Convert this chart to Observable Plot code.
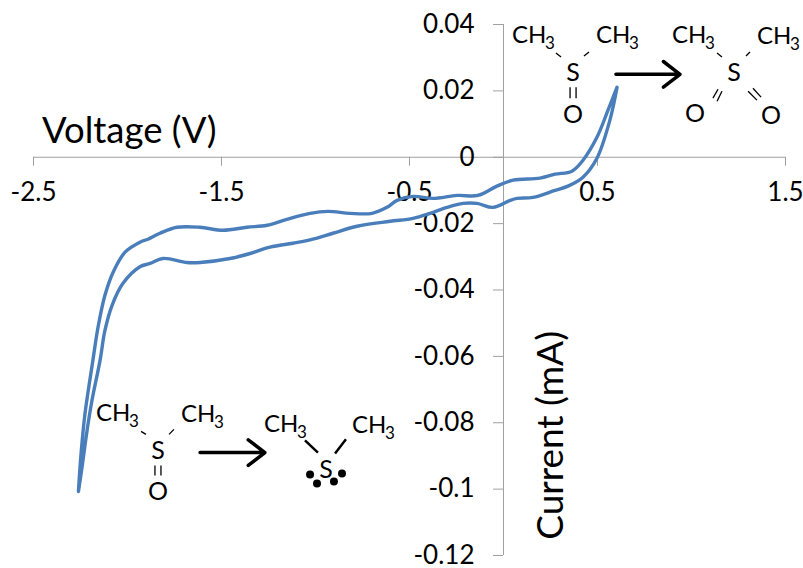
<!DOCTYPE html>
<html><head><meta charset="utf-8">
<script src="https://cdn.jsdelivr.net/npm/d3@7"></script>
<script src="https://cdn.jsdelivr.net/npm/@observablehq/plot@0.6"></script>
<style>html,body{margin:0;padding:0;background:#fff;overflow:hidden}svg{display:block}</style>
</head><body><div id="chart"></div>
<script>
const xTicks = [-2.5, -1.5, -0.5, 0.5, 1.5];
const yTicks = [0.04, 0.02, 0, -0.02, -0.04, -0.06, -0.08, -0.1, -0.12];
const sweepOutV = [-2.261,-2.247,-2.226,-2.184,-2.157,-2.120,-2.077,-2.013,-1.934,-1.891,-1.827,-1.737,-1.614,-1.492,-1.364,-1.258,-1.152,-1.029,-0.934,-0.816,-0.699,-0.620,-0.566,-0.481,-0.375,-0.247,-0.136,-0.035,0.051,0.194,0.274,0.364,0.423,0.497,0.556,0.604];
const sweepOutI = [-0.1007,-0.0893,-0.0772,-0.0612,-0.0513,-0.0416,-0.0347,-0.0286,-0.0256,-0.0247,-0.0229,-0.0211,-0.0211,-0.0220,-0.0211,-0.0205,-0.0187,-0.0169,-0.0163,-0.0169,-0.0169,-0.0151,-0.0130,-0.0118,-0.0124,-0.0115,-0.0115,-0.0087,-0.0069,-0.0063,-0.0051,-0.0042,-0.0009,0.0060,0.0142,0.0211];
const sweepBackV = [0.604,0.566,0.497,0.423,0.343,0.274,0.157,0.072,0.035,-0.056,-0.141,-0.215,-0.301,-0.391,-0.481,-0.604,-0.779,-0.907,-1.029,-1.120,-1.242,-1.348,-1.455,-1.614,-1.684,-1.811,-1.880,-1.934,-2.024,-2.082,-2.120,-2.146,-2.189,-2.215,-2.242,-2.261];
const sweepBackI = [0.0211,0.0112,-0.0003,-0.0060,-0.0087,-0.0100,-0.0121,-0.0124,-0.0130,-0.0151,-0.0139,-0.0139,-0.0151,-0.0169,-0.0184,-0.0193,-0.0208,-0.0229,-0.0249,-0.0259,-0.0271,-0.0290,-0.0305,-0.0317,-0.0317,-0.0305,-0.0320,-0.0330,-0.0380,-0.0446,-0.0522,-0.0612,-0.0733,-0.0823,-0.0935,-0.1007];
const loopV = sweepOutV.concat(sweepBackV);
const loopI = sweepOutI.concat(sweepBackI);

const methylNames = ["CH","CH","CH","CH","CH","CH","CH","CH"];
const methylV = [0.045,0.492,0.896,1.348,-2.168,-1.715,-1.274,-0.806];
const methylI = [0.0344,0.0344,0.0344,0.0341,-0.0796,-0.0799,-0.0829,-0.0832];
const subV = [0.221,0.668,1.072,1.524,-1.992,-1.540,-1.098,-0.630];
const subI = [0.0326,0.0326,0.0326,0.0323,-0.0814,-0.0817,-0.0847,-0.0850];
const atomNames = ["S","O","S","O","O","S","O","S"];
const atomV = [0.370,0.370,1.226,1.019,1.423,-1.838,-1.838,-0.944];
const atomI = [0.0229,0.0103,0.0229,0.0106,0.0100,-0.0908,-0.1034,-0.0965];
const bondV1 = [0.279,0.428,0.354,0.386,1.136,1.290,1.114,1.136,1.301,1.327,-1.928,-1.779,-1.854,-1.822];
const bondI1 = [0.0314,0.0305,0.0211,0.0211,0.0314,0.0305,0.0178,0.0169,0.0199,0.0208,-0.0826,-0.0835,-0.0929,-0.0929];
const bondV2 = [0.306,0.455,0.354,0.386,1.162,1.311,1.141,1.162,1.348,1.370,-1.902,-1.753,-1.854,-1.822];
const bondI2 = [0.0302,0.0317,0.0178,0.0178,0.0302,0.0317,0.0205,0.0199,0.0172,0.0181,-0.0835,-0.0820,-0.0959,-0.0959];
const thickV1 = [-1.056,-0.838], thickI1 = [-0.0853,-0.0850], thickV2 = [-0.987,-0.896], thickI2 = [-0.0890,-0.0893];
const lonePairV = [-1.029,-0.992,-0.902,-0.859];
const lonePairI = [-0.0956,-0.0983,-0.0977,-0.0953];
const arrowV1 = [0.598,-1.614], arrowV2 = [0.939,-1.269], arrowI = [0.0250,-0.0890];

const idx = a => a.map((_, i) => i);
const ink = "#000";
const chart = Plot.plot({
  width: 803, height: 568,
  marginTop: 0, marginRight: 0, marginBottom: 0, marginLeft: 0,
  style: {background: "#fff", fontFamily: "Lato, 'Open Sans', sans-serif", overflow: "visible"},
  x: {domain: [-2.5, 1.5], range: [33, 785]},
  y: {domain: [-0.12, 0.04], range: [555, 24]},
  marks: [
    Plot.ruleY([0], {x1: -2.5, x2: 1.5, stroke: "#a0a0a0", strokeWidth: 1}),
    Plot.ruleX([0], {y1: -0.12, y2: 0.04, stroke: "#a0a0a0", strokeWidth: 1}),
    Plot.axisX(xTicks, {y: 0, anchor: "bottom", tickSize: 9, tickPadding: 16, stroke: "#a0a0a0", fill: ink, fontSize: 26, label: null, tickFormat: d => String(d), textStroke: "none"}),
    Plot.axisY(yTicks, {x: 0, anchor: "left", tickSize: 10, tickPadding: 19, stroke: "#a0a0a0", fill: ink, fontSize: 26, label: null, tickFormat: d => String(d)}),
    Plot.text(["Voltage (V)"], {x: [-2.455], y: [0.0042], text: d => d, fontSize: 36.5, textAnchor: "start", lineAnchor: "bottom", fill: ink}),
    Plot.text(["Current (mA)"], {x: [0.253], y: [-0.0838], text: d => d, fontSize: 37, rotate: -90, textAnchor: "middle", lineAnchor: "middle", fill: ink}),
    Plot.line(idx(loopV), {x: i => loopV[i], y: i => loopI[i], stroke: "#4a7ebb", strokeWidth: 3.4, curve: "catmull-rom"}),
    Plot.text(idx(methylNames), {x: i => methylV[i], y: i => methylI[i], text: i => methylNames[i], fontSize: 24, textAnchor: "start", lineAnchor: "bottom", fill: ink}),
    Plot.text(idx(subV), {x: i => subV[i], y: i => subI[i], text: () => "3", fontSize: 17, textAnchor: "start", lineAnchor: "bottom", fill: ink}),
    Plot.text(idx(atomNames), {x: i => atomV[i], y: i => atomI[i], text: i => atomNames[i], fontSize: 25, textAnchor: "middle", lineAnchor: "bottom", fill: ink}),
    Plot.link(idx(bondV1), {x1: i => bondV1[i], y1: i => bondI1[i], x2: i => bondV2[i], y2: i => bondI2[i], stroke: ink, strokeWidth: 1.3}),
    Plot.link(idx(thickV1), {x1: i => thickV1[i], y1: i => thickI1[i], x2: i => thickV2[i], y2: i => thickI2[i], stroke: ink, strokeWidth: 2.5}),
    Plot.dot(idx(lonePairV), {x: i => lonePairV[i], y: i => lonePairI[i], r: 4, fill: ink}),
    Plot.arrow(idx(arrowV1), {x1: i => arrowV1[i], y1: i => arrowI[i], x2: i => arrowV2[i], y2: i => arrowI[i], stroke: ink, strokeWidth: 3.5, headLength: 9, headAngle: 75, bend: 0})
  ]
});
document.getElementById("chart").appendChild(chart);
</script></body></html>
